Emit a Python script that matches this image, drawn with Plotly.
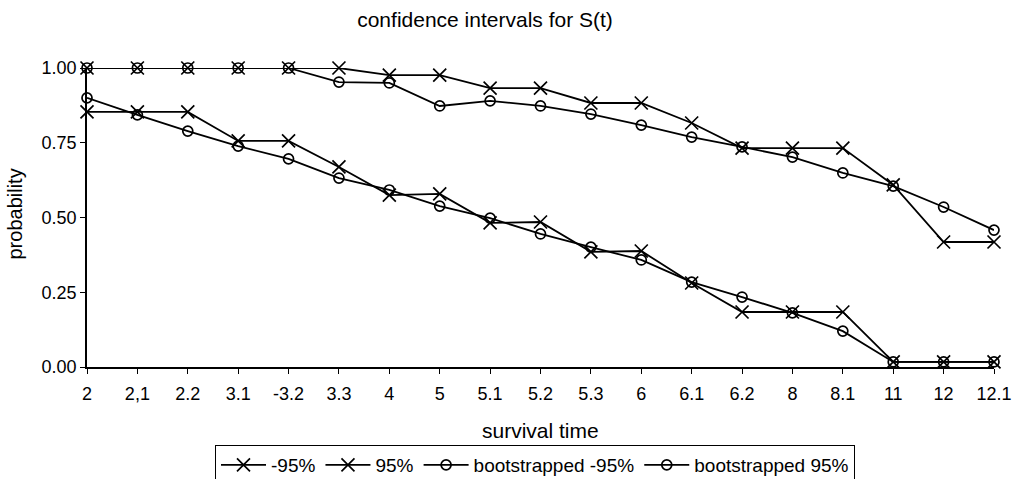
import plotly.graph_objects as go

categories = ["2", "2,1", "2.2", "3.1", "-3.2", "3.3", "4", "5", "5.1", "5.2",
              "5.3", "6", "6.1", "6.2", "8", "8.1", "11", "12", "12.1"]

lower_95 = [0.853, 0.853, 0.853, 0.756, 0.756, 0.669, 0.575, 0.579, 0.482, 0.485,
            0.385, 0.388, 0.281, 0.184, 0.184, 0.184, 0.017, 0.017, 0.017]
upper_95 = [1.0, 1.0, 1.0, 1.0, 1.0, 1.0, 0.976, 0.976, 0.933, 0.933,
            0.883, 0.883, 0.816, 0.732, 0.732, 0.732, 0.609, 0.418, 0.418]
boot_lower_95 = [0.900, 0.843, 0.789, 0.739, 0.696, 0.632, 0.592, 0.538, 0.498, 0.445,
                 0.401, 0.358, 0.284, 0.234, 0.181, 0.120, 0.017, 0.017, 0.017]
boot_upper_95 = [1.0, 1.0, 1.0, 1.0, 1.0, 0.953, 0.950, 0.873, 0.890, 0.873,
                 0.846, 0.809, 0.769, 0.736, 0.702, 0.649, 0.605, 0.535, 0.458]

series = [
    ("-95%", lower_95, "x-thin-open", 13),
    ("95%", upper_95, "x-thin-open", 13),
    ("bootstrapped -95%", boot_lower_95, "circle-open", 10),
    ("bootstrapped 95%", boot_upper_95, "circle-open", 10),
]

FONT = "Liberation Sans, Arial, sans-serif"

fig = go.Figure()
for name, vals, sym, sz in series:
    fig.add_trace(go.Scatter(
        x=categories, y=vals, name=name, mode="lines+markers",
        line=dict(color="black", width=1.8),
        marker=dict(symbol=sym, size=sz, color="black",
                    line=dict(color="black", width=1.7)),
        cliponaxis=False,
    ))

fig.update_layout(
    width=1022, height=479,
    paper_bgcolor="white", plot_bgcolor="white",
    margin=dict(l=87, r=28, t=68, b=112),
    font=dict(family=FONT, size=18, color="black"),
    title=dict(text="confidence intervals for S(t)", x=485 / 1022, xref="container",
               xanchor="center", y=1 - 20 / 479, yref="container", yanchor="middle",
               font=dict(size=21, family=FONT, color="black")),
    showlegend=True,
    legend=dict(orientation="h", xref="container", yref="container",
                x=535 / 1022, xanchor="center", y=1 - 445 / 479, yanchor="top",
                bordercolor="black", borderwidth=1, bgcolor="white",
                font=dict(size=19, family=FONT), itemwidth=45,
                tracegroupgap=0),
    annotations=[
        dict(text="survival time", xref="paper", yref="paper", x=0.5, y=0,
             yshift=-(430 - 367), xanchor="center", yanchor="middle",
             showarrow=False, font=dict(size=21, family=FONT, color="black")),
        dict(text="probability", xref="paper", yref="paper", x=0, y=0.5,
             xshift=-(87 - 14), xanchor="center", yanchor="middle", textangle=-90,
             yshift=3, showarrow=False,
             font=dict(size=20, family=FONT, color="black")),
    ],
)
fig.update_xaxes(
    type="category", range=[0, 18], showline=True, linecolor="black", linewidth=1.5,
    ticks="outside", ticklen=5, tickcolor="black", showgrid=False, zeroline=False,
    tickfont=dict(size=18), ticklabelstandoff=5, automargin=False,
)
fig.update_yaxes(
    range=[0, 1], tickvals=[0, 0.25, 0.5, 0.75, 1.0],
    ticktext=["0.00", "0.25", "0.50", "0.75", "1.00"],
    showline=True, linecolor="black", linewidth=1.5, ticks="outside", ticklen=5,
    tickcolor="black", showgrid=False, zeroline=False, tickfont=dict(size=18),
    automargin=False,
)

fig.write_html("out.html", config={"displayModeBar": False},
               post_script="document.body.style.margin='0';document.body.style.padding='0';")
